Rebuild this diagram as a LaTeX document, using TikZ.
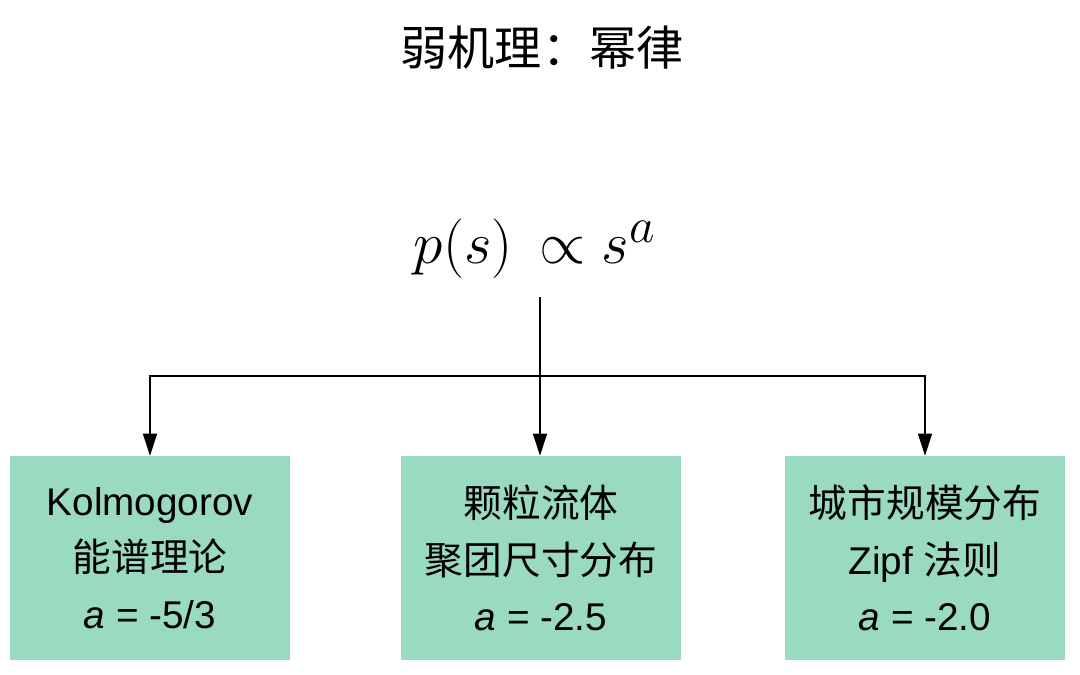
\documentclass[tikz,border=0pt]{standalone}
\usepackage[no-math]{fontspec}
\setmainfont{Liberation Sans}
\newfontfamily\cjk{Noto Sans CJK SC}
\usepackage{xcolor}
\usetikzlibrary{arrows.meta,positioning}
\definecolor{pmint}{HTML}{99DAC0}
\tikzset{
  % mint block holding one example of the law
  blk/.style   = {rectangle, fill=pmint, align=center, inner sep=0pt,
                  minimum width=7cm, minimum height=5.1cm,
                  font=\fontsize{27.5}{40}\selectfont},
  arr/.style   = {-{Triangle[length=5.5mm, width=3.5mm]}, line width=1.1pt, black},
  ttl/.style   = {font=\cjk\fontsize{33.5}{40}\selectfont},
  law/.style   = {font=\Huge, scale=1.7, inner sep=0pt, inner ysep=0.26cm},
}

\begin{document}
\begin{tikzpicture}[x=0.025cm,y=-0.025cm]
\useasboundingbox (0,0) rectangle (1080,675);
% title and formula
\node[ttl] (title) at (542,48) {弱机理：幂律};
\node[law] (law) at (535,249) {$p(s)\,\propto s^a$};
% blocks
\node[blk] (k41)  at (150,558) {Kolmogorov\\{\cjk 能谱理论}\\{\itshape a} = -5/3};
\node[blk] (gran) at (541,558) {{\cjk 颗粒流体}\\{\cjk 聚团尺寸分布}\\{\itshape a} = -2.5};
\node[blk] (zipf) at (925,558) {{\cjk 城市规模分布}\\Zipf {\cjk 法则}\\{\itshape a} = -2.0};
% connectors
\coordinate (fork) at (540,376);
\draw[arr] (fork |- law.south) -- (fork |- gran.north);
\draw[arr] (fork) -| (k41.north);
\draw[arr] (fork) -| (zipf.north);
\end{tikzpicture}
\end{document}
